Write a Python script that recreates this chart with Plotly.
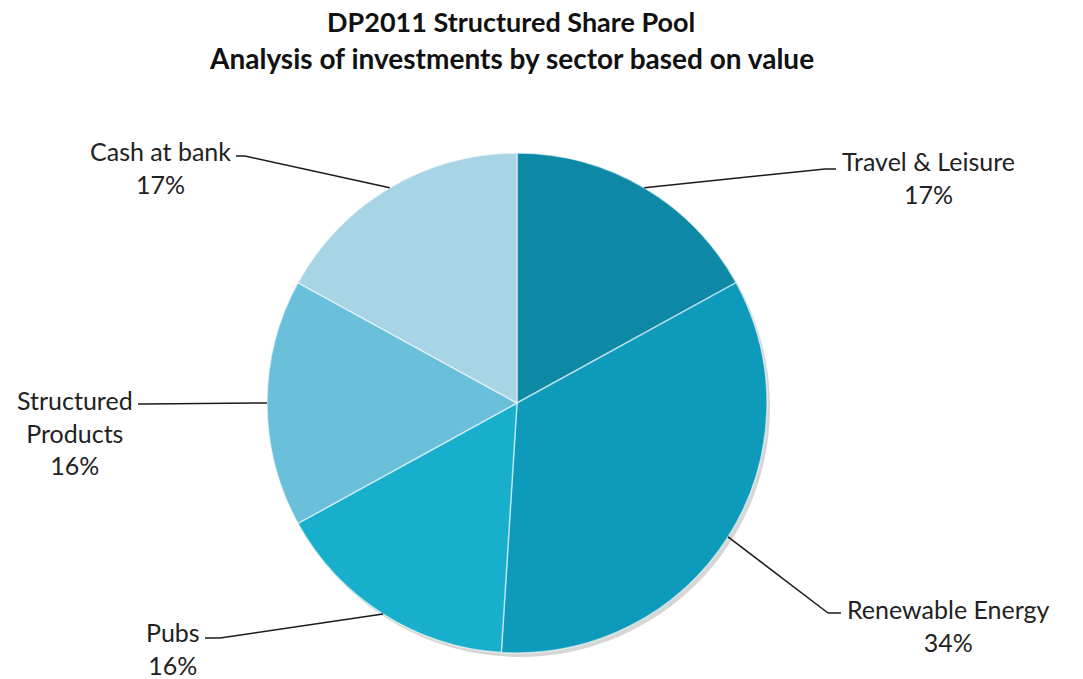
import math
import plotly.graph_objects as go

# ---- data ----
sectors = ["Travel & Leisure", "Renewable Energy", "Pubs", "Structured Products", "Cash at bank"]
label_text = ["Travel & Leisure<br>17%", "Renewable Energy<br>34%", "Pubs<br>16%",
              "Structured<br>Products<br>16%", "Cash at bank<br>17%"]
values = [17, 34, 16, 16, 17]
colors = ["#0D89A6", "#0E9BBB", "#18AFCD", "#6AC0DB", "#A8D5E6"]

W, H = 1083, 679
CX, CY, R = 517, 403, 250  # pie geometry in pixels (layout)

def px(x):
    return x / W

def py(y):
    return 1 - y / H

# label layout: (elbow x, elbow y, end x, text x, text y, xanchor)
label_layout = [
    (825, 169, 836, 840, 178, "left"),
    (828, 613, 841, 845, 625, "left"),
    (220, 638, 205, 202, 648, "right"),
    (145, 404, 138, 135, 432, "right"),
    (245, 156, 236, 233, 167, "right"),
]

fig = go.Figure()
# soft shadow
fig.add_trace(go.Pie(
    values=[1], marker=dict(colors=["rgba(0,0,0,0.16)"], line=dict(width=0)),
    textinfo="none", hoverinfo="skip", showlegend=False, sort=False,
    domain=dict(x=[px(CX - R + 3), px(CX + R + 3)], y=[py(CY + R + 4), py(CY - R + 4)]),
))
fig.add_trace(go.Pie(
    labels=sectors, values=values, sort=False, direction="clockwise", rotation=0,
    marker=dict(colors=colors, line=dict(color="rgba(255,255,255,0.55)", width=1.5)),
    textinfo="none", showlegend=False,
    domain=dict(x=[px(CX - R), px(CX + R)], y=[py(CY + R), py(CY - R)]),
))

total = sum(values)
cum = 0
shapes = []
annotations = []
for v, txt, (ex, ey, endx, tx, ty, anchor) in zip(values, label_text, label_layout):
    mid = (cum + v / 2) / total * 2 * math.pi
    cum += v
    sx = CX + R * math.sin(mid)
    sy = CY - R * math.cos(mid)
    for (x0, y0, x1, y1) in [(sx, sy, ex, ey), (ex, ey, endx, ey)]:
        shapes.append(dict(type="line", xref="paper", yref="paper",
                           x0=px(x0), y0=py(y0), x1=px(x1), y1=py(y1),
                           line=dict(color="#1a1a1a", width=1.5)))
    annotations.append(dict(
        text=txt, x=px(tx), y=py(ty), xref="paper", yref="paper",
        xanchor=anchor, yanchor="middle", align="center", showarrow=False,
        font=dict(family="Lato, Carlito, sans-serif", size=25, color="#222222"),
    ))

annotations.append(dict(text="<b>DP2011 Structured Share Pool</b>", x=px(511), y=py(22),
                        xref="paper", yref="paper", xanchor="center", yanchor="middle",
                        showarrow=False, font=dict(family="Lato, sans-serif", size=27, color="#111111")))
annotations.append(dict(text="<b>Analysis of investments by sector based on value</b>", x=px(511), y=py(58),
                        xref="paper", yref="paper", xanchor="center", yanchor="middle",
                        showarrow=False, font=dict(family="Lato, sans-serif", size=28, color="#111111")))

fig.update_layout(
    width=W, height=H, margin=dict(l=0, r=0, t=0, b=0),
    paper_bgcolor="white", plot_bgcolor="white",
    shapes=shapes, annotations=annotations,
)
fig.write_html("out.html", config={"displayModeBar": False},
               post_script="document.body.style.margin='0';document.body.style.padding='0';")
